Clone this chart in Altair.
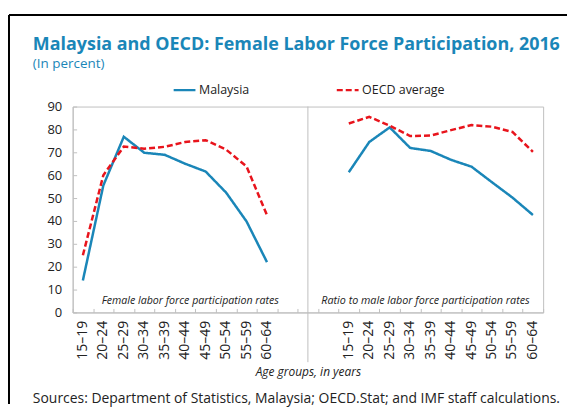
import altair as alt
import pandas as pd

ages = ["15–19", "20–24", "25–29", "30–34", "35–39", "40–44", "45–49", "50–54", "55–59", "60–64"]
mys_rate = [14.0, 55.5, 76.8, 69.8, 68.9, 65.0, 61.6, 52.4, 39.8, 22.0]
oecd_rate = [25.0, 60.0, 72.5, 71.6, 72.4, 74.5, 75.3, 71.2, 63.8, 42.5]
mys_ratio = [61.3, 74.5, 80.9, 71.9, 70.6, 66.7, 63.7, 56.9, 50.2, 42.6]
oecd_ratio = [82.6, 85.5, 81.6, 77.1, 77.3, 79.7, 81.9, 81.2, 78.9, 70.2]
series = ["Malaysia", "OECD average"]
panels = ["Female labor force participation rates", "Ratio to male labor force participation rates"]
gaps = ["g1", "g2", "g3"]
y_ticks = [0, 10, 20, 30, 40, 50, 60, 70, 80, 90]

TITLE = "Malaysia and OECD: Female Labor Force Participation, 2016"
SUBTITLE = "(In percent)"
XTITLE = "Age groups, in years"
SOURCE = "Sources: Department of Statistics, Malaysia; OECD.Stat; and IMF staff calculations."

FONT = "Open Sans"
BLUE = "#1a86b8"
RED = "#e8141c"
GRAY = "#bfbfbf"
TXT = "#222222"
W, H = 473, 207

domain = [f"L:{a}" for a in ages] + gaps + [f"R:{a}" for a in ages]

rows = []
for prefix, panel, vals in [("L", panels[0], {series[0]: mys_rate, series[1]: oecd_rate}),
                            ("R", panels[1], {series[0]: mys_ratio, series[1]: oecd_ratio})]:
    for s, arr in vals.items():
        for i, (a, v) in enumerate(zip(ages, arr)):
            rows.append({"key": f"{prefix}:{a}", "series": s, "value": v, "panel": panel, "idx": i})
df = pd.DataFrame(rows)

xscale = alt.Scale(type="band", domain=domain, paddingInner=0, paddingOuter=0)
yscale = alt.Scale(domain=[0, 90], nice=False, zero=True)

legend = alt.Legend(title=None, orient="none", legendX=100, legendY=-29, direction="horizontal",
                    symbolType="stroke", symbolStrokeWidth=2.5, symbolSize=480,
                    labelFontSize=12.5, labelColor=TXT, labelFont=FONT, columnPadding=82,
                    padding=0, labelOffset=2)

lines = alt.Chart(df).mark_line(strokeWidth=2.5).encode(
    x=alt.X("key:N", scale=xscale, bandPosition=0.5,
            axis=alt.Axis(orient="bottom", labelAngle=-90, labelExpr="substring(datum.value, 2)",
                          ticks=False, domainColor=GRAY, domainWidth=1, labelPadding=8,
                          labelFontSize=14, labelColor=TXT, labelFont=FONT,
                          title=XTITLE, titleFontStyle="italic", titleFontWeight="normal",
                          titleFontSize=12, titleColor=TXT, titleFont=FONT, titlePadding=7)),
    y=alt.Y("value:Q", scale=yscale,
            axis=alt.Axis(orient="left", values=y_ticks, ticks=False, grid=False, domainColor=GRAY,
                          labelFontSize=13, labelColor=TXT, labelFont=FONT, labelPadding=11, title=None)),
    color=alt.Color("series:N", scale=alt.Scale(domain=series, range=[BLUE, RED]), legend=legend),
    strokeDash=alt.StrokeDash("series:N", scale=alt.Scale(domain=series, range=[[1, 0], [6, 3]]), legend=legend),
    detail="panel:N",
    order="idx:Q",
)

inner_ticks = alt.Chart(df).mark_point(opacity=0).encode(
    x=alt.X("key:N", scale=xscale,
            axis=alt.Axis(orient="top", offset=-H, labels=False, domain=False, ticks=True,
                          tickBand="extent", tickSize=4, tickColor=GRAY, title=None)),
    y=alt.Y("value:Q", scale=yscale,
            axis=alt.Axis(orient="right", offset=-W, labels=False, domain=False, ticks=True,
                          tickSize=4, tickColor=GRAY, values=y_ticks, grid=False, title=None)),
)

divider = alt.Chart(pd.DataFrame({"key": ["g2"]})).mark_rule(color=GRAY, strokeWidth=1).encode(
    x=alt.X("key:N", scale=xscale, bandPosition=0.5, axis=None),
    y=alt.value(0), y2=alt.value(H + 50),
)

ptxt = pd.DataFrame({"panel": panels})
lab_left = alt.Chart(ptxt).transform_filter(alt.datum.panel == panels[0]).mark_text(
    font=FONT, fontSize=10.7, fontStyle="italic", color=TXT, baseline="middle", align="center"
).encode(text="panel:N", x=alt.value(W * 0.25), y=alt.value(H - 11))
lab_right = alt.Chart(ptxt).transform_filter(alt.datum.panel == panels[1]).mark_text(
    font=FONT, fontSize=10.8, fontStyle="italic", color=TXT, baseline="middle", align="center"
).encode(text="panel:N", x=alt.value(W * 0.75), y=alt.value(H - 11))

src = alt.Chart(pd.DataFrame({"t": [SOURCE]})).mark_text(
    font=FONT, fontSize=14, color=TXT, align="left", baseline="middle"
).encode(text="t:N", x=alt.value(-40), y=alt.value(H + 87))

ttl = alt.Chart(pd.DataFrame({"t": [TITLE]})).mark_text(
    font=FONT, fontSize=18, fontWeight="bold", color=BLUE, align="left", baseline="alphabetic"
).encode(text="t:N", x=alt.value(-40), y=alt.value(-57))
subttl = alt.Chart(pd.DataFrame({"t": [SUBTITLE]})).mark_text(
    font=FONT, fontSize=13.5, color=BLUE, align="left", baseline="alphabetic"
).encode(text="t:N", x=alt.value(-40), y=alt.value(-39))

frame_left = alt.Chart(pd.DataFrame({"a": [0]})).mark_rule(color="black", strokeWidth=2).encode(
    x=alt.value(-64), y=alt.value(-92), y2=alt.value(H + 92))
frame_top = alt.Chart(pd.DataFrame({"a": [0]})).mark_rule(color="black", strokeWidth=2).encode(
    x=alt.value(-64), x2=alt.value(497), y=alt.value(-92))

chart = alt.layer(
    inner_ticks, divider, lines, lab_left, lab_right, src, ttl, subttl, frame_left, frame_top
).resolve_axis(x="independent", y="independent").properties(
    width=W, height=H,
    padding={"left": 0, "top": 5, "right": 0, "bottom": 0},
).configure_view(stroke=GRAY, strokeWidth=1)

chart.save("out.html", embed_options={"renderer": "svg", "actions": False})
